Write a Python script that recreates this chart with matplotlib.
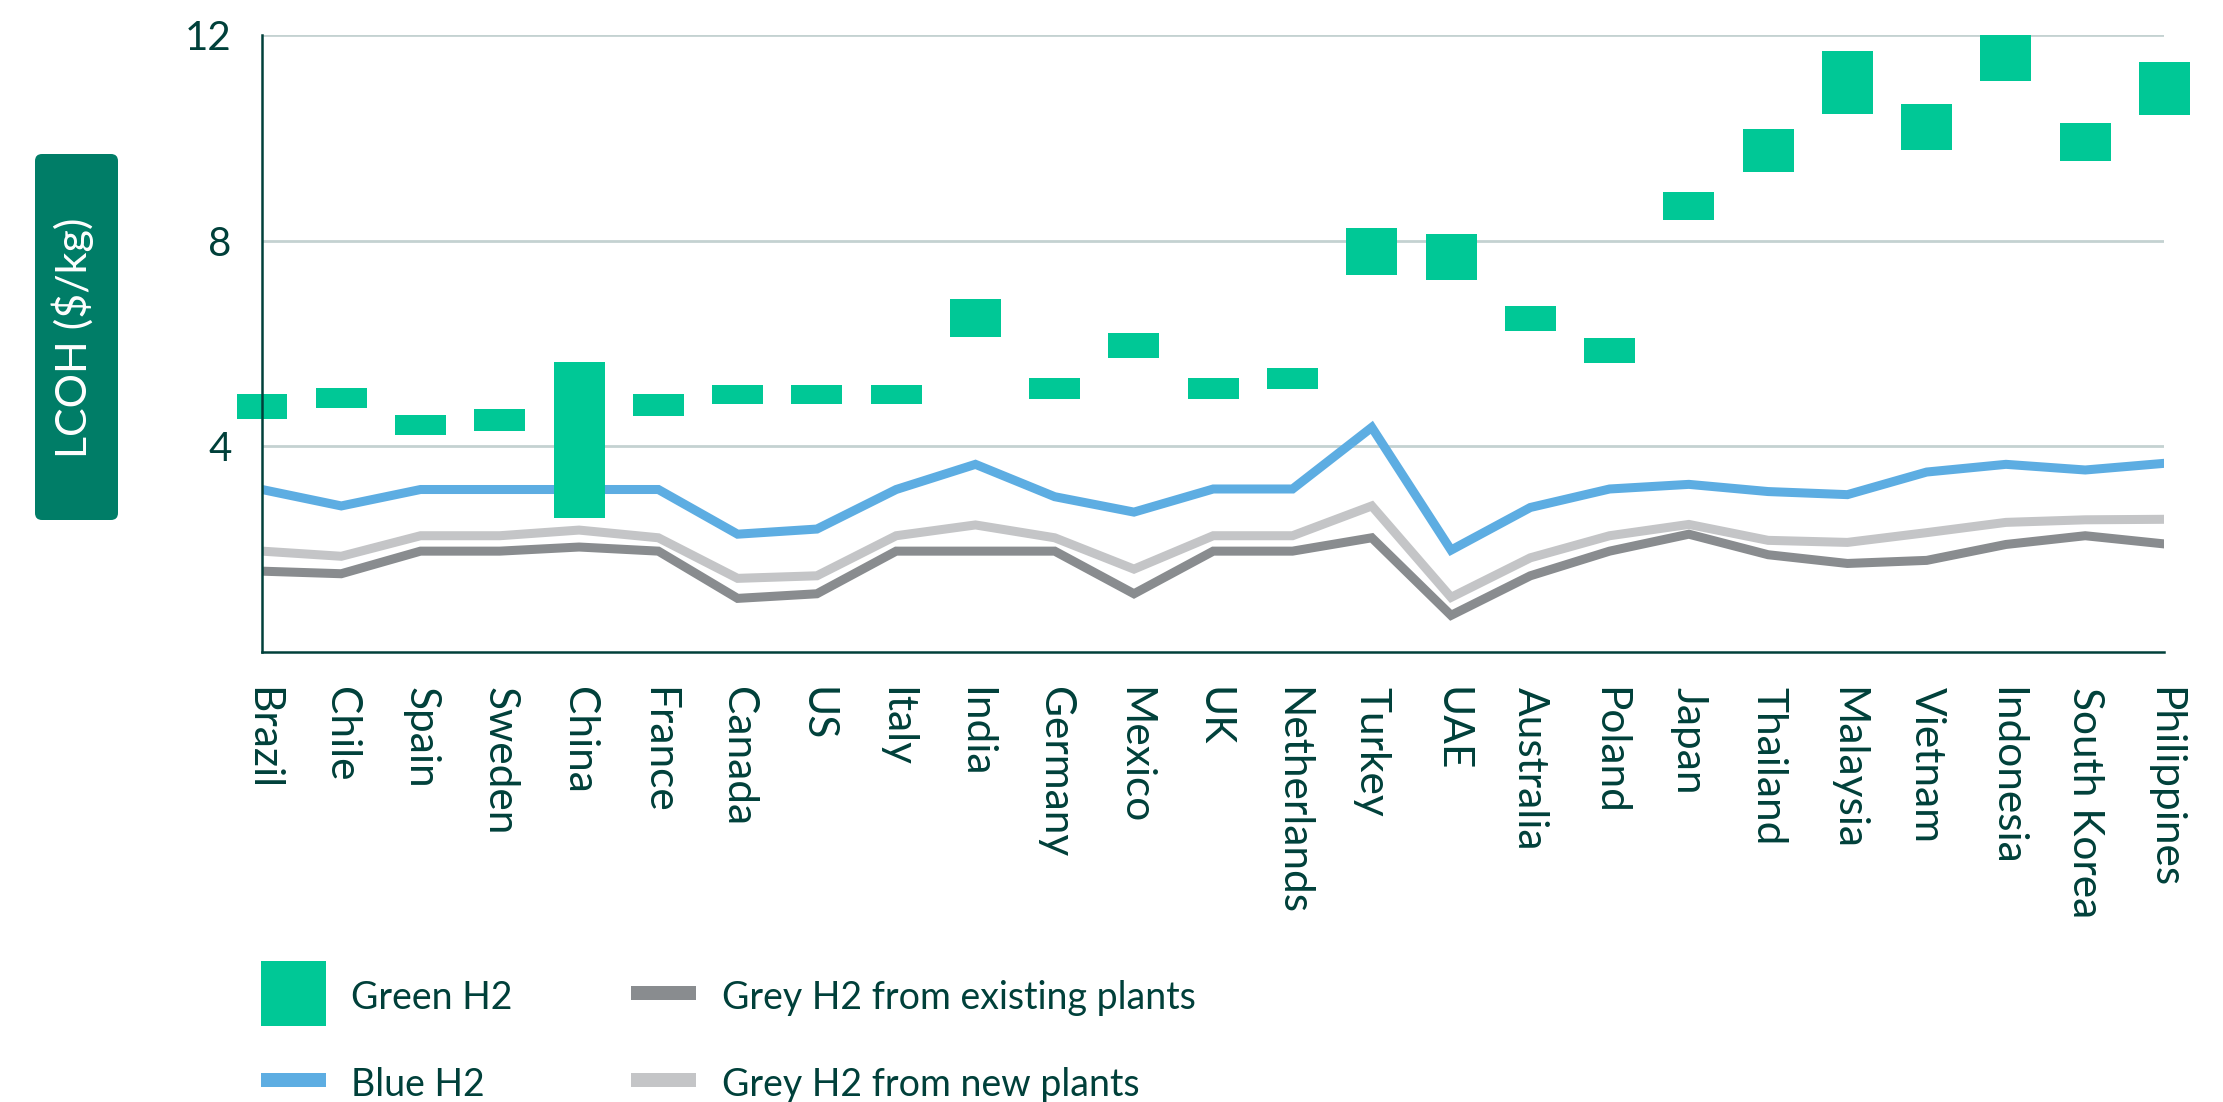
import matplotlib
matplotlib.use("Agg")
import matplotlib.pyplot as plt
from matplotlib.patches import FancyBboxPatch, Rectangle

# Levelised cost of hydrogen by country ($/kg)
countries = ["Brazil", "Chile", "Spain", "Sweden", "China", "France", "Canada", "US",
             "Italy", "India", "Germany", "Mexico", "UK", "Netherlands", "Turkey", "UAE",
             "Australia", "Poland", "Japan", "Thailand", "Malaysia", "Vietnam",
             "Indonesia", "South Korea", "Philippines"]

green_low = [4.54, 4.74, 4.23, 4.30, 2.61, 4.59, 4.83, 4.83, 4.83, 6.13, 4.92, 5.72, 4.92,
             5.12, 7.34, 7.23, 6.25, 5.63, 8.41, 9.35, 10.48, 9.77, 11.12, 9.55, 10.46]
green_high = [5.02, 5.14, 4.61, 4.72, 5.64, 5.02, 5.20, 5.20, 5.20, 6.87, 5.33, 6.21, 5.33,
              5.53, 8.25, 8.14, 6.74, 6.11, 8.96, 10.17, 11.69, 10.67, 12.00, 10.30, 11.49]
blue = [3.16, 2.84, 3.16, 3.16, 3.16, 3.16, 2.29, 2.39, 3.16, 3.65, 3.02, 2.72, 3.17,
        3.17, 4.37, 1.98, 2.81, 3.17, 3.26, 3.12, 3.06, 3.50, 3.65, 3.54, 3.67]
grey_new = [1.96, 1.86, 2.26, 2.26, 2.37, 2.22, 1.43, 1.48, 2.26, 2.47, 2.22, 1.61, 2.26,
            2.26, 2.84, 1.06, 1.83, 2.26, 2.48, 2.17, 2.13, 2.32, 2.52, 2.57, 2.58]
grey_existing = [1.57, 1.52, 1.96, 1.96, 2.04, 1.96, 1.04, 1.13, 1.96, 1.96, 1.96, 1.13, 1.96,
                 1.96, 2.22, 0.71, 1.48, 1.96, 2.29, 1.89, 1.72, 1.78, 2.09, 2.26, 2.10]

y_ticks = [4, 8, 12]
y_label = "LCOH ($/kg)"
legend_labels = ["Green H2", "Blue H2", "Grey H2 from existing plants", "Grey H2 from new plants"]

GREEN = "#00C896"
BLUE = "#5DADE2"
GREY_DARK = "#898C8F"
GREY_LIGHT = "#C4C5C7"
GRID = "#C4D2D1"
INK = "#00403A"
LABEL_BOX = "#007D67"

plt.rcParams["font.family"] = ["Lato", "DejaVu Sans"]

fig = plt.figure(figsize=(22.23, 11.02), dpi=100)
ax = fig.add_axes([0.11786, 0.40853, 0.85582, 0.55926])

x = list(range(len(countries)))

ax.plot(x, grey_new, color=GREY_LIGHT, lw=6.5, solid_joinstyle="miter",
        solid_capstyle="butt", zorder=3)
ax.plot(x, grey_existing, color=GREY_DARK, lw=6.5, solid_joinstyle="miter",
        solid_capstyle="butt", zorder=3)
ax.plot(x, blue, color=BLUE, lw=6.5, solid_joinstyle="miter",
        solid_capstyle="butt", zorder=3)

heights = [h - l for h, l in zip(green_high, green_low)]
ax.bar(x, heights, bottom=green_low, width=0.643, color=GREEN, linewidth=0,
       zorder=4, clip_on=False)

ax.set_xlim(0, len(countries) - 1)
ax.set_ylim(0, 12)
ax.set_yticks(y_ticks)
ax.set_yticklabels([str(t) for t in y_ticks])
ax.set_xticks(x)
ax.set_xticklabels(countries, rotation=270, ha="center", va="top")

ax.grid(axis="y", color=GRID, lw=2, zorder=0)
ax.set_axisbelow(True)
for side in ("top", "right"):
    ax.spines[side].set_visible(False)
for side in ("left", "bottom"):
    ax.spines[side].set_color(INK)
    ax.spines[side].set_linewidth(1.8)
    ax.spines[side].set_zorder(5)

ax.tick_params(axis="y", length=0, pad=22, labelsize=29, labelcolor=INK)
ax.tick_params(axis="x", length=0, pad=25, labelsize=30.5, labelcolor=INK)

# Axis title in a rounded badge
inch = fig.dpi_scale_trans
badge = FancyBboxPatch((0.35, 5.82), 0.83, 3.66,
                       boxstyle="round,pad=0,rounding_size=0.07",
                       transform=inch, facecolor=LABEL_BOX, edgecolor="none")
fig.patches.append(badge)
fig.text(0.73, 7.645, y_label, transform=inch, rotation=90, ha="center", va="center",
         color="white", fontsize=31)

# Legend
fig.patches.append(Rectangle((2.61, 0.76), 0.65, 0.65, transform=inch,
                             facecolor=GREEN, edgecolor="none"))
fig.patches.append(Rectangle((2.61, 0.15), 0.65, 0.14, transform=inch,
                             facecolor=BLUE, edgecolor="none"))
fig.patches.append(Rectangle((6.31, 1.02), 0.65, 0.14, transform=inch,
                             facecolor=GREY_DARK, edgecolor="none"))
fig.patches.append(Rectangle((6.31, 0.15), 0.65, 0.14, transform=inch,
                             facecolor=GREY_LIGHT, edgecolor="none"))

fig.text(3.51, 0.93, legend_labels[0], transform=inch, va="baseline", ha="left",
         color=INK, fontsize=27)
fig.text(3.51, 0.06, legend_labels[1], transform=inch, va="baseline", ha="left",
         color=INK, fontsize=27)
fig.text(7.22, 0.93, legend_labels[2], transform=inch, va="baseline", ha="left",
         color=INK, fontsize=27)
fig.text(7.22, 0.06, legend_labels[3], transform=inch, va="baseline", ha="left",
         color=INK, fontsize=27)

fig.savefig("out.png", dpi=100)
